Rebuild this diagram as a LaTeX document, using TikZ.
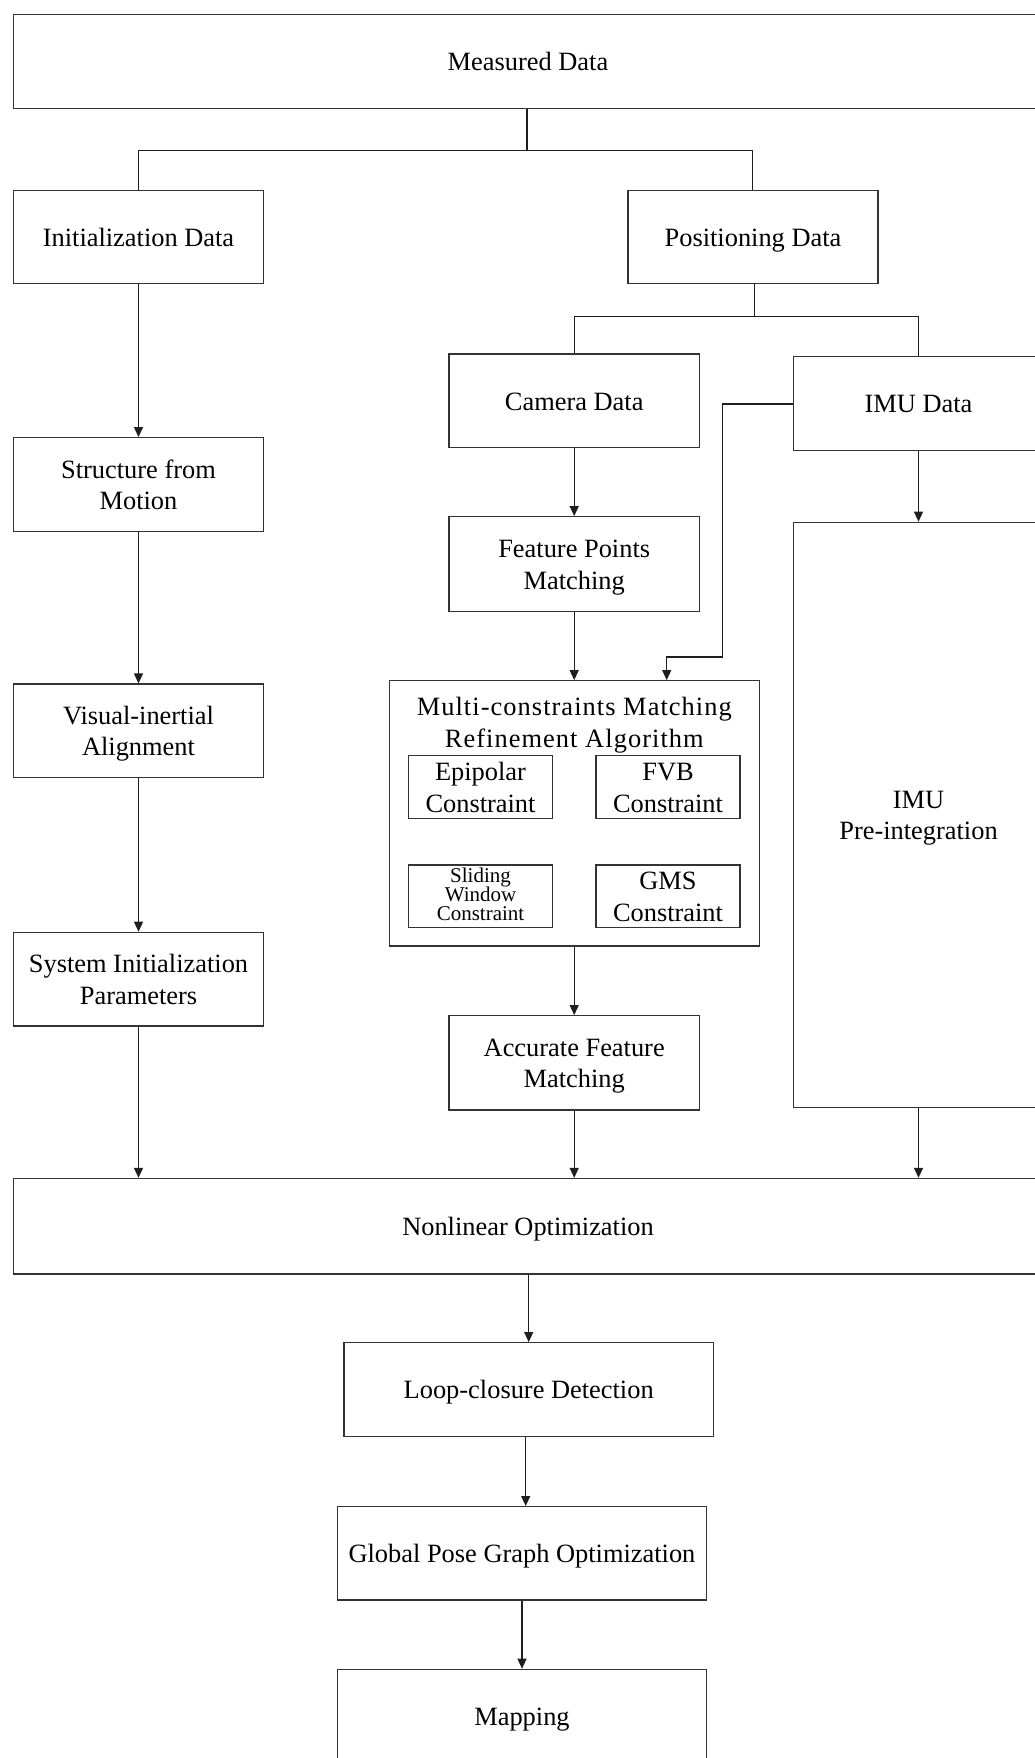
\documentclass[tikz,border=0pt]{standalone}
\usepackage{fontspec}
\setmainfont{Liberation Serif}
\usetikzlibrary{arrows.meta}
\newcommand{\tl}[1]{\rule{0pt}{0.7em}\smash{#1}}
\begin{document}
\begin{tikzpicture}[x=1pt,y=-1pt,
  bx/.style={draw=black!80, line width=1.3pt, inner sep=0pt, align=center, text=black,
    font=\fontsize{26.4}{31.6}\selectfont},
  std/.style={bx, minimum width=250pt, minimum height=94pt},
  sub/.style={bx, minimum width=144pt, minimum height=62.6pt},
  ln/.style={draw=black!88, line width=1.3pt},
  arr/.style={ln, -{Triangle[length=10pt,width=9pt]}},
]
\useasboundingbox (0,0) rectangle (1035,1758);
\clip (0,0) rectangle (1035,1758);
\fill[white] (0,0) rectangle (1035,1758);

% top
\node[bx, minimum width=1029pt, minimum height=94.2pt] (meas) at (528,61.7) {\tl{Measured Data}};
\node[std, minimum height=93pt] (init) at (138.5,237.2) {\tl{Initialization Data}};
\node[std, minimum height=93pt] (pos) at (753,237.2) {\tl{Positioning Data}};

% left column
\node[std] (sfm) at (138.5,484.7) {\tl{Structure from}\\\tl{Motion}};
\node[std, minimum height=93.3pt] (via) at (138.5,730.7) {\tl{Visual-inertial}\\\tl{Alignment}};
\node[std, minimum height=93.7pt] (sys) at (138.5,979.2) {\tl{System Initialization}\\\tl{Parameters}};

% middle column
\node[std, minimum width=250.5pt, minimum height=93.7pt] (cam) at (574.2,400.9) {\tl{Camera Data}};
\node[std, minimum width=250.5pt, minimum height=95pt] (fpm) at (574.2,564.2) {\tl{Feature Points}\\\tl{Matching}};
\node[bx, minimum width=370pt, minimum height=265.3pt] (mc) at (574.3,813.4) {};
\node[inner sep=0pt, align=center, font=\fontsize{26.4}{32.3}\selectfont\addfontfeatures{LetterSpace=4}] (mct) at (574.3,722.5) {\tl{Multi-constraints Matching}\\\tl{Refinement Algorithm}};
\node[sub] (epi) at (480.5,787) {\tl{Epipolar}\\\tl{Constraint}};
\node[sub] (fvb) at (668,787) {\tl{FVB}\\\tl{Constraint}};
\node[sub] (sli) at (480.5,896.3) {};
\node[inner sep=0pt, align=center, font=\fontsize{21}{19}\selectfont] (slit) at (480.5,894) {\tl{Sliding}\\\tl{Window}\\\tl{Constraint}};
\node[sub] (gms) at (668,896.3) {\tl{GMS}\\\tl{Constraint}};
\node[std, minimum width=250.5pt, minimum height=94.3pt] (acc) at (574.2,1062.9) {\tl{Accurate Feature}\\\tl{Matching}};

% right column
\node[std] (imu) at (918.5,403.7) {\tl{IMU Data}};
\node[std, minimum height=585pt] (imupre) at (918.5,814.8) {\tl{IMU}\\\tl{Pre-integration}};

% bottom
\node[bx, minimum width=1029pt, minimum height=95.5pt] (nlo) at (528,1226.2) {\tl{Nonlinear Optimization}};
\node[bx, minimum width=369.3pt, minimum height=94pt] (loop) at (528.7,1389.7) {\tl{Loop-closure Detection}};
\node[bx, minimum width=369.4pt, minimum height=93.3pt] (gpg) at (522,1553.3) {\tl{Global Pose Graph Optimization}};
\node[bx, minimum width=369.4pt, minimum height=94pt] (map) at (522,1716.3) {\tl{Mapping}};

% helper coordinates
\coordinate (t1) at (527,150.5);
\coordinate (t2) at (754.5,316.2);
\coordinate (b1) at (722.5,404);
\coordinate (b2) at (722.5,657);
\coordinate (b3) at (666.7,657);
\coordinate (lx) at (525.7,0);

% tree connectors
\draw[ln] (meas.south -| t1) -- (t1);
\draw[ln] (init.north) |- (t1) -| (pos.north -| 752.5,0);
\draw[ln] (pos.south -| t2) -- (t2);
\draw[ln] (cam.north) |- (t2) -| (imu.north);

% left arrows
\draw[arr] (init) -- (sfm);
\draw[arr] (sfm) -- (via);
\draw[arr] (via) -- (sys);
\draw[arr] (sys.south) -- (nlo.north -| sys.south);

% middle arrows
\draw[arr] (cam) -- (fpm);
\draw[arr] (fpm.south) -- (mc.north -| fpm.south);
\draw[arr] (imu.west |- b1) -- (b1) -- (b2) -- (b3) -- (mc.north -| b3);
\draw[arr] (mc.south -| acc.north) -- (acc.north);
\draw[arr] (acc.south) -- (nlo.north -| acc.south);

% right arrows
\draw[arr] (imu) -- (imupre);
\draw[arr] (imupre.south) -- (nlo.north -| imupre.south);

% bottom arrows
\draw[arr] (nlo.south -| loop.north) -- (loop.north);
\draw[arr] (loop.south -| lx) -- (gpg.north -| lx);
\draw[arr] (gpg) -- (map);
\end{tikzpicture}
\end{document}
